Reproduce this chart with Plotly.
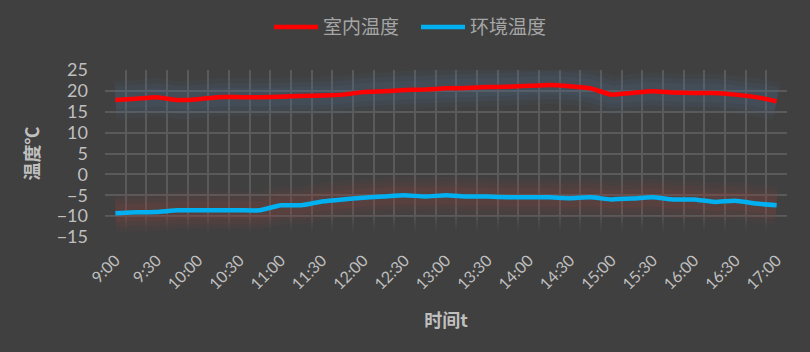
import plotly.graph_objects as go

times = ["9:00", "9:15", "9:30", "9:45", "10:00", "10:15", "10:30", "10:45", "11:00",
         "11:15", "11:30", "11:45", "12:00", "12:15", "12:30", "12:45", "13:00",
         "13:15", "13:30", "13:45", "14:00", "14:15", "14:30", "14:45", "15:00",
         "15:15", "15:30", "15:45", "16:00", "16:15", "16:30", "16:45", "17:00"]
indoor = [17.8, 18.1, 18.5, 17.8, 18.0, 18.5, 18.5, 18.5, 18.6, 18.8, 18.9, 19.1,
          19.7, 19.9, 20.2, 20.3, 20.6, 20.7, 20.9, 21.0, 21.2, 21.4, 21.1, 20.6,
          19.1, 19.5, 19.9, 19.6, 19.5, 19.5, 19.1, 18.5, 17.5]
ambient = [-9.3, -9.1, -9.0, -8.6, -8.6, -8.6, -8.6, -8.6, -7.4, -7.4, -6.5, -6.0,
           -5.6, -5.3, -5.0, -5.3, -5.0, -5.3, -5.3, -5.5, -5.5, -5.5, -5.7, -5.5,
           -6.0, -5.8, -5.5, -6.0, -6.0, -6.6, -6.3, -7.0, -7.4]
label_times = times[::2]

idx = list(range(len(times)))
BG = "#404040"
GRID = "#5a5a5a"
TXT = "#bfbfbf"

fig = go.Figure()

# soft glow behind each line (blue glow around indoor, red glow around ambient)
for w, a in [(38, 0.08), (28, 0.11), (18, 0.14)]:
    fig.add_trace(go.Scatter(x=idx, y=indoor, mode="lines", showlegend=False, hoverinfo="skip",
                             line=dict(color=f"rgba(80,110,150,{a})", width=w, shape="spline", smoothing=0.4)))
    fig.add_trace(go.Scatter(x=idx, y=ambient, mode="lines", showlegend=False, hoverinfo="skip",
                             line=dict(color=f"rgba(150,65,60,{a})", width=w, shape="spline", smoothing=0.4)))

fig.add_trace(go.Scatter(x=idx, y=indoor, mode="lines", name="室内温度",
                         line=dict(color="#ff0000", width=4.5, shape="spline", smoothing=0.4)))
fig.add_trace(go.Scatter(x=idx, y=ambient, mode="lines", name="环境温度",
                         line=dict(color="#00b0f0", width=4.5, shape="spline", smoothing=0.4)))

# fade of the plot area toward the bottom
N = 10
for k in range(N):
    fig.add_shape(type="rect", xref="x", yref="y", x0=-0.6, x1=32.6,
                  y0=-15.5, y1=-15 + 5.0 * (k + 1) / N,
                  fillcolor=BG, opacity=0.22, line=dict(width=0), layer="between")

fig.update_layout(
    width=810, height=352,
    paper_bgcolor=BG, plot_bgcolor=BG,
    margin=dict(l=105, r=23, t=70, b=115),
    font=dict(family="Lato, 'Noto Sans CJK SC', sans-serif", color=TXT),
    legend=dict(orientation="h", x=269 / 810, xanchor="left", xref="container",
                y=0.977, yanchor="top", yref="container",
                font=dict(size=19, color="#a6a6a6", family="'Noto Sans CJK SC', sans-serif"),
                itemwidth=44, entrywidth=88, entrywidthmode="pixels",
                bgcolor="rgba(0,0,0,0)"),
    showlegend=True,
)

fig.update_xaxes(
    range=[-0.5, 32.5], tickvals=idx[::2], ticktext=label_times,
    tickangle=-45, tickfont=dict(size=16, color=TXT), showgrid=False, zeroline=False,
    ticks="", ticklabelstandoff=10,
    minor=dict(tick0=-0.5, dtick=1, showgrid=True, gridcolor=GRID, gridwidth=2, ticks=""),
    title=dict(text="<b>时间t</b>", font=dict(size=18, color=TXT,
               family="'Noto Sans CJK SC', sans-serif"), standoff=22),
)
fig.update_yaxes(
    range=[-15, 25], dtick=5, tickfont=dict(size=18, color=TXT),
    showgrid=True, gridcolor=GRID, gridwidth=2, zeroline=False, ticks="",
    ticklabelstandoff=16,
    title=dict(text="<b>温度℃</b>", font=dict(size=18, color=TXT,
               family="'Noto Sans CJK SC', sans-serif"), standoff=12),
)

fig.write_html("out.html")
